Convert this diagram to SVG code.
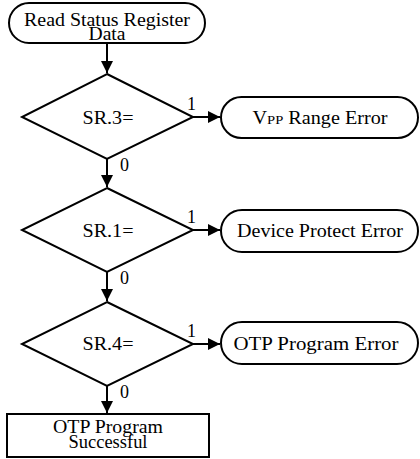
<svg xmlns="http://www.w3.org/2000/svg" width="420" height="459" viewBox="0 0 420 459">
<style>
.s{fill:#fff;stroke:#000;stroke-width:2}
.t{font-family:'Liberation Serif','DejaVu Serif',serif;font-size:18px;fill:#000;text-anchor:middle}
.l{font-family:'Liberation Serif','DejaVu Serif',serif;font-size:18px;fill:#000}
.c{fill:none;stroke:#000;stroke-width:2}
</style>
<defs>
<marker id="a" viewBox="0 0 10 10" refX="10" refY="5" markerWidth="6" markerHeight="6" markerUnits="strokeWidth" orient="auto"><path d="M0,0L10,5L0,10z" fill="#000"/></marker>
</defs>
<g id="start"><rect class="s" x="9" y="3" width="196" height="40" rx="20"/><text class="t" x="107" y="26" textLength="166" lengthAdjust="spacingAndGlyphs">Read Status Register</text><text class="t" x="107" y="40" textLength="37" lengthAdjust="spacingAndGlyphs">Data</text></g>
<g id="d1"><polygon class="s" points="107,74 193,117 107,159 22,117"/><text class="t" x="108" y="124" textLength="51" lengthAdjust="spacingAndGlyphs">SR.3=</text></g>
<g id="e1"><rect class="s" x="221" y="97" width="197" height="41" rx="20.5"/><text class="t" x="320" y="124" textLength="135" lengthAdjust="spacingAndGlyphs">V<tspan font-size="13">PP</tspan> Range Error</text></g>
<g id="d2"><polygon class="s" points="107,188 193,230 107,272 22,230"/><text class="t" x="108" y="237" textLength="51" lengthAdjust="spacingAndGlyphs">SR.1=</text></g>
<g id="e2"><rect class="s" x="221" y="210" width="197" height="42" rx="21"/><text class="t" x="320" y="237" textLength="166" lengthAdjust="spacingAndGlyphs">Device Protect Error</text></g>
<g id="d3"><polygon class="s" points="107,302 193,344 107,386 22,344"/><text class="t" x="108" y="350" textLength="51" lengthAdjust="spacingAndGlyphs">SR.4=</text></g>
<g id="e3"><rect class="s" x="221" y="322" width="197" height="42" rx="21"/><text class="t" x="316" y="350" textLength="165" lengthAdjust="spacingAndGlyphs">OTP Program Error</text></g>
<g id="end"><rect class="s" x="7" y="414" width="202" height="43"/><text class="t" x="108" y="433" textLength="110" lengthAdjust="spacingAndGlyphs">OTP Program</text><text class="t" x="108" y="448" textLength="79" lengthAdjust="spacingAndGlyphs">Successful</text></g>
<g id="connectors">
<line class="c" x1="107" y1="43" x2="107" y2="73" marker-end="url(#a)"/>
<line class="c" x1="193" y1="117" x2="220" y2="117" marker-end="url(#a)"/>
<line class="c" x1="107" y1="159" x2="107" y2="187" marker-end="url(#a)"/>
<line class="c" x1="193" y1="230" x2="220" y2="230" marker-end="url(#a)"/>
<line class="c" x1="107" y1="272" x2="107" y2="301" marker-end="url(#a)"/>
<line class="c" x1="193" y1="344" x2="220" y2="344" marker-end="url(#a)"/>
<line class="c" x1="107" y1="386" x2="107" y2="413" marker-end="url(#a)"/>
<text class="l" x="187" y="110">1</text>
<text class="l" x="120" y="171">0</text>
<text class="l" x="187" y="223">1</text>
<text class="l" x="120" y="284">0</text>
<text class="l" x="187" y="337">1</text>
<text class="l" x="120" y="398">0</text>
</g>
</svg>
